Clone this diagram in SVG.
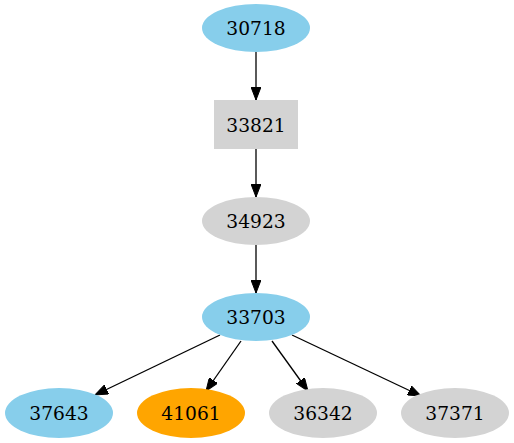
<svg xmlns="http://www.w3.org/2000/svg" width="514" height="443" viewBox="0 0 514 443">
<defs>
<marker id="ah" markerWidth="13" markerHeight="10" refX="13" refY="5" orient="auto" markerUnits="userSpaceOnUse">
<path d="M0,0 L13,5 L0,10 Z" fill="#000" stroke="#000"/>
</marker>
<style>
text{font-family:"DejaVu Serif",serif;font-size:18.67px;text-anchor:middle;dominant-baseline:central;fill:#000}
.e{stroke:#000;stroke-width:1.3;fill:none;marker-end:url(#ah)}
.sky{fill:#87ceeb}.gray{fill:#d3d3d3}.org{fill:#ffa500}
</style>
</defs>
<rect width="514" height="443" fill="#fff"/>
<g id="connectors">
<line class="e" x1="256" y1="52" x2="256" y2="100"/>
<line class="e" x1="256" y1="149" x2="256" y2="197"/>
<line class="e" x1="256" y1="245" x2="256" y2="293"/>
<line class="e" x1="220" y1="335" x2="95" y2="395"/>
<line class="e" x1="241" y1="341" x2="206" y2="391"/>
<line class="e" x1="272" y1="341" x2="308" y2="391"/>
<line class="e" x1="292" y1="335" x2="421" y2="396"/>
</g>
<g id="n30718"><ellipse class="sky" cx="256" cy="28" rx="54" ry="24"/><text x="256" y="28">30718</text></g>
<g id="n33821"><rect class="gray" x="214" y="100" width="84" height="49"/><text x="256" y="125">33821</text></g>
<g id="n34923"><ellipse class="gray" cx="256" cy="221" rx="54" ry="24"/><text x="256" y="221">34923</text></g>
<g id="n33703"><ellipse class="sky" cx="256" cy="317" rx="54" ry="24"/><text x="256" y="317">33703</text></g>
<g id="n37643"><ellipse class="sky" cx="59" cy="413" rx="54" ry="25"/><text x="59" y="413">37643</text></g>
<g id="n41061"><ellipse class="org" cx="191" cy="413" rx="54" ry="25"/><text x="191" y="413">41061</text></g>
<g id="n36342"><ellipse class="gray" cx="323" cy="413" rx="54" ry="25"/><text x="323" y="413">36342</text></g>
<g id="n37371"><ellipse class="gray" cx="455" cy="413" rx="54" ry="25"/><text x="455" y="413">37371</text></g>
</svg>
